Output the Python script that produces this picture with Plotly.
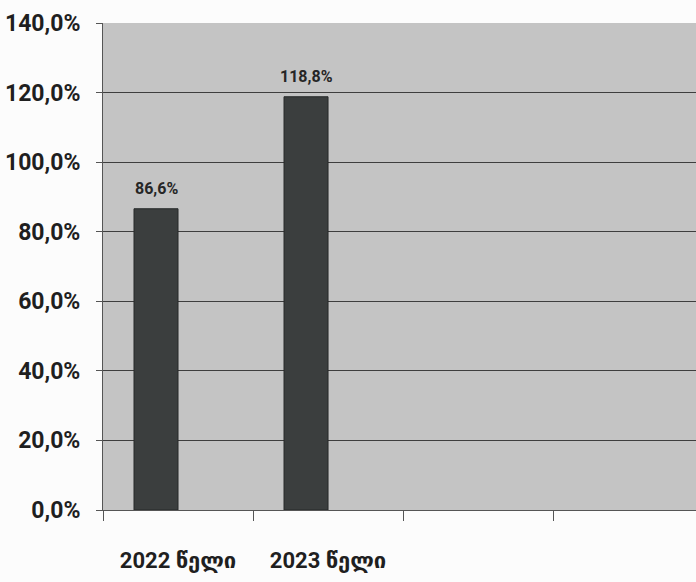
import plotly.graph_objects as go

# Categories on the x axis (two labelled years, two empty slots)
categories = ["2022 წელი", "2023 წელი", " ", "  "]
years = ["2022 წელი", "2023 წელი"]
values = [86.6, 118.8]
y_ticks = [0, 20, 40, 60, 80, 100, 120, 140]
y_tick_labels = ["0,0%", "20,0%", "40,0%", "60,0%", "80,0%", "100,0%", "120,0%", "140,0%"]

FONT = "Roboto, Liberation Sans, DejaVu Sans, sans-serif"
BAR_W = 44 / 150  # bar width in category units

fig = go.Figure()
fig.add_trace(go.Bar(
    x=years,
    y=values,
    width=BAR_W,
    offset=-BAR_W,
    marker=dict(color="#3b3e3e", line=dict(color="#262828", width=1)),
    hoverinfo="x+y",
))

for yr, v in zip(years, values):
    fig.add_annotation(
        x=yr, y=v, text=f"{v:.1f}%".replace(".", ","),
        showarrow=False, yanchor="bottom", xanchor="center",
        xshift=-22, yshift=9,
        font=dict(family=FONT, size=16, color="#262626", weight="bold"),
    )

fig.update_layout(
    width=696, height=582,
    margin=dict(l=103, r=0, t=23, b=72),
    paper_bgcolor="#fcfcfc",
    plot_bgcolor="#c4c4c4",
    separators=",.",
    showlegend=False,
    font=dict(family=FONT, color="#1f1f1f"),
)

fig.update_yaxes(
    range=[0, 140],
    tickvals=y_ticks,
    ticktext=y_tick_labels,
    tickfont=dict(family=FONT, size=23, color="#1f1f1f", weight="bold"),
    showgrid=True, gridcolor="#3e3e3e", gridwidth=1,
    showline=True, linecolor="#555555", linewidth=1,
    ticks="outside", ticklen=6, tickcolor="#555555",
    ticklabelstandoff=11,
    zeroline=False,
)

fig.update_xaxes(
    type="category",
    categoryorder="array", categoryarray=categories,
    range=[-0.5, 3.453],
    tickson="boundaries",
    ticks="outside", ticklen=10, tickcolor="#555555",
    tickfont=dict(family=FONT, size=22, color="#1f1f1f", weight="bold"),
    showline=True, linecolor="#555555", linewidth=1,
    showgrid=False,
    ticklabelstandoff=31,
)

fig.write_html("out.html")
